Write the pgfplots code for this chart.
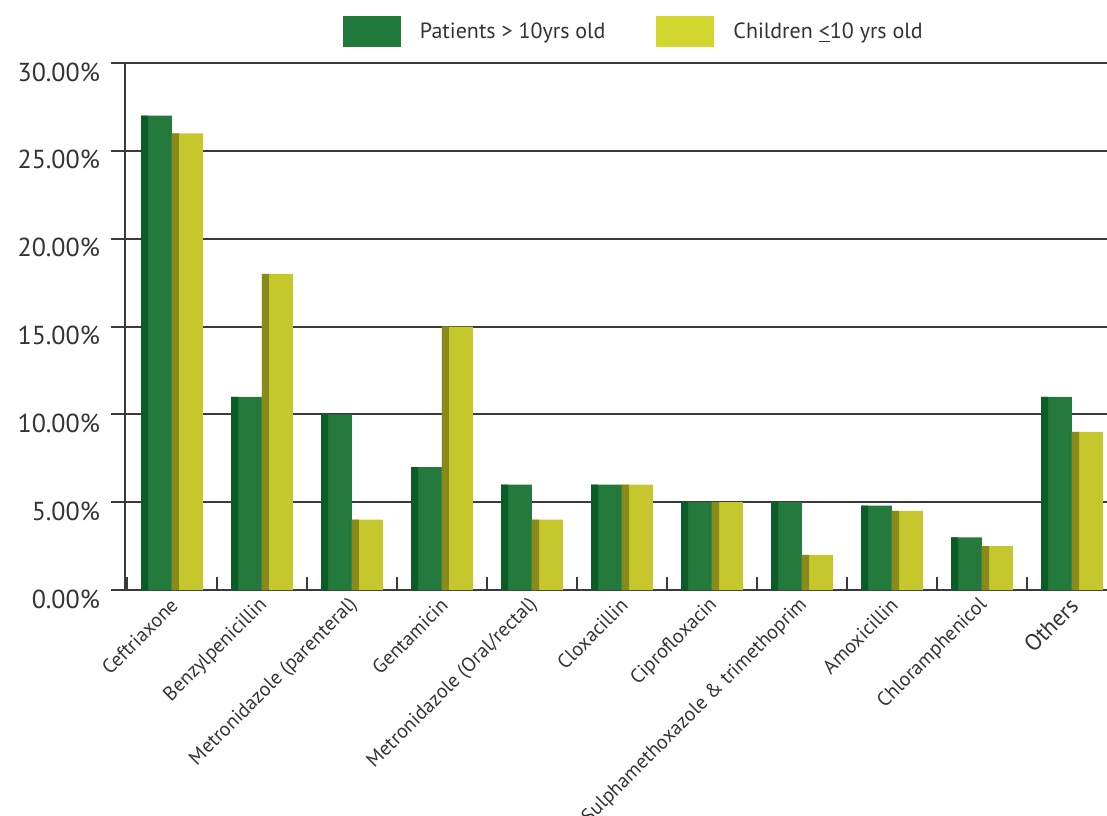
\documentclass[border=0pt]{standalone}
\usepackage{fontspec}
\setmainfont{PT Sans}
\usepackage{pgfplots}
\usepackage{pgfplotstable}
\pgfplotsset{compat=1.18}
\definecolor{gmain}{HTML}{237A3C}
\definecolor{gdark}{HTML}{0C5C28}
\definecolor{ymain}{HTML}{C6C72C}
\definecolor{ydark}{HTML}{8A8A1C}
\definecolor{legG}{HTML}{217A3C}
\definecolor{legY}{HTML}{D3D62F}
\definecolor{gridc}{HTML}{3A3A3A}
\pgfplotstableread{
x g c
0 27 26
1 11 18
2 10 4
3 7 15
4 6 4
5 6 6
6 5 5
7 5 2
8 4.8 4.5
9 3 2.5
10 11 9
}\datatable
\begin{document}
\begin{tikzpicture}
\path[use as bounding box] (-62.5pt,-112.5pt) rectangle (491pt,295pt);
\begin{axis}[
  at={(0,0)}, anchor=south west,
  scale only axis, width=506.2pt, height=263.5pt,
  xmin=-0.522, xmax=10.727, ymin=0, ymax=30,
  axis lines*=left,
  axis line style={-, draw=gridc, line width=1pt},
  ytick={0,5,...,30},
  yticklabels={0.00\%,5.00\%,10.00\%,15.00\%,20.00\%,25.00\%,30.00\%},
  ymajorgrids, grid style={draw=gridc, line width=1pt},
  ytick align=outside,
  major tick length=0pt, minor tick length=7pt,
  tick style={draw=gridc, line width=1pt},
  minor ytick={0,5,...,30},
  yticklabel style={font=\fontsize{13}{15}\selectfont, text=black!80, yshift=-4.5pt, xshift=-9pt},
  xtick={0,1,...,10},
  xticklabels={Ceftriaxone,Benzylpenicillin,Metronidazole (parenteral),Gentamicin,Metronidazole (Oral/rectal),Cloxacillin,Ciprofloxacin,Sulphamethoxazole \& trimethoprim,Amoxicillin,Chloramphenicol,{\fontsize{11.5}{13}\selectfont Others}},
  xticklabel style={rotate=45, anchor=east, font=\fontsize{10}{12}\selectfont, text=black!80, yshift=-5pt},
  legend columns=2,
  legend style={at={(0.511,1.059)}, anchor=center, draw=none, fill=none,
     font=\fontsize{11}{13}\selectfont, text=black!80,
     /tikz/every even column/.append style={column sep=16pt},
     nodes={inner xsep=9.5pt}},
  legend image code/.code={\fill[#1] (0pt,-7.75pt) rectangle (29pt,7.75pt);},
]
% category separators on the x axis
\addplot[ycomb, draw=gridc, line width=1pt, mark=none, forget plot] coordinates {
(-0.5,0.75) (0.5,0.75) (1.5,0.75) (2.5,0.75) (3.5,0.75) (4.5,0.75)
(5.5,0.75) (6.5,0.75) (7.5,0.75) (8.5,0.75) (9.5,0.75)};
\addplot[ybar, bar width=0.344, bar shift=-0.172, fill=gmain, draw=none, forget plot] table[x=x,y=g]{\datatable};
\addplot[ybar, bar width=0.078, bar shift=-0.305, fill=gdark, draw=none, forget plot] table[x=x,y=g]{\datatable};
\addplot[ybar, bar width=0.344, bar shift=0.172, fill=ymain, draw=none, forget plot] table[x=x,y=c]{\datatable};
\addplot[ybar, bar width=0.078, bar shift=0.039, fill=ydark, draw=none, forget plot] table[x=x,y=c]{\datatable};
\addlegendimage{fill=legG, draw=none}
\addlegendentry{Patients > 10yrs old}
\addlegendimage{fill=legY, draw=none}
\addlegendentry{Children \underline{<}10 yrs old}
\end{axis}
\end{tikzpicture}
\end{document}
